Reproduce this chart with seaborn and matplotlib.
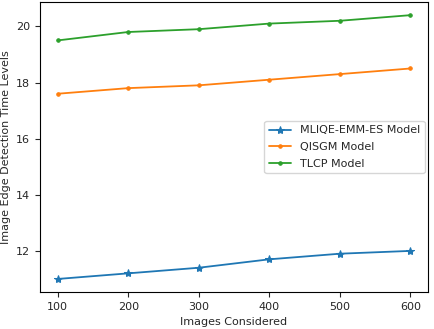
import matplotlib
matplotlib.use("Agg")
import matplotlib.pyplot as plt
import seaborn as sns
import pandas as pd

images = [100, 200, 300, 400, 500, 600]
mliqe = [11.0, 11.2, 11.4, 11.7, 11.9, 12.0]
qisgm = [17.6, 17.8, 17.9, 18.1, 18.3, 18.5]
tlcp = [19.5, 19.8, 19.9, 20.1, 20.2, 20.4]
labels = ["MLIQE-EMM-ES Model", "QISGM Model", "TLCP Model"]

sns.set_style("ticks")
plt.rcParams['font.family'] = ['DejaVu Sans']
plt.rcParams['font.size'] = 8

fig, ax = plt.subplots(figsize=(4.35, 3.29), dpi=100)
fig.subplots_adjust(left=0.092, right=0.984, top=0.994, bottom=0.112)

colors = ["#1f77b4", "#ff7f0e", "#2ca02c"]
markers = ["*", ".", "."]
sizes = [6, 5, 5]
for vals, lab, c, m, s in zip([mliqe, qisgm, tlcp], labels, colors, markers, sizes):
    df = pd.DataFrame({"x": images, "y": vals})
    sns.lineplot(data=df, x="x", y="y", ax=ax, color=c, marker=m, markersize=s,
                 markeredgecolor=c, label=lab, linewidth=1.3)

ax.set_xlabel("Images Considered", fontsize=8)
ax.set_ylabel("Image Edge Detection Time Levels", fontsize=8)
ax.set_xticks(images)
ax.tick_params(labelsize=8)
ax.legend(loc="center right", fontsize=8, borderaxespad=0.3, labelspacing=0.6)
for s in ax.spines.values():
    s.set_visible(True)
    s.set_color("black")
fig.savefig("out.png", dpi=100)
